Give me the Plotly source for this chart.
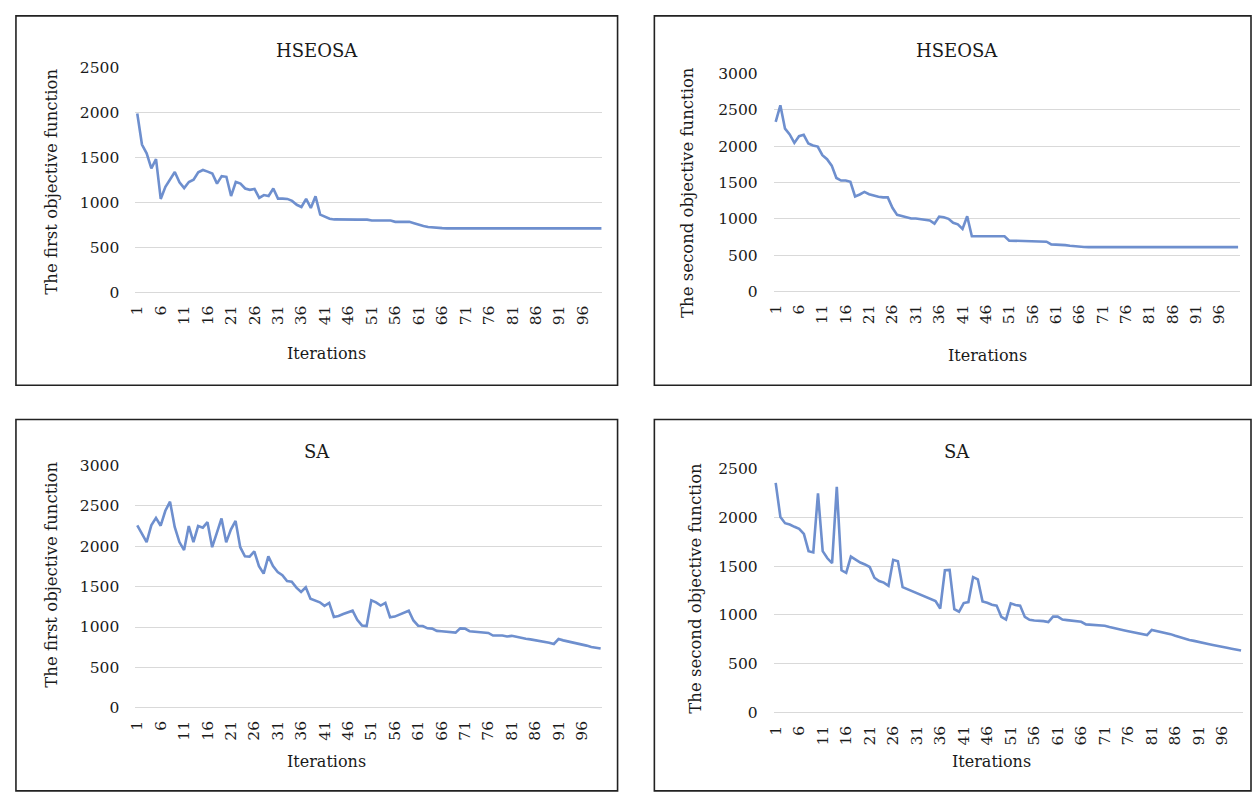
import plotly.graph_objects as go

# ---------------- data ----------------
iterations = list(range(1, 101))
tick_vals = [1, 6, 11, 16, 21, 26, 31, 36, 41, 46, 51, 56, 61, 66, 71, 76, 81, 86, 91, 96]
tick_text = [str(v) for v in tick_vals]

hseosa_f1 = [
    1990, 1645, 1547, 1380, 1482, 1040, 1174, 1257, 1340, 1225,
    1160, 1228, 1254, 1337, 1362, 1344, 1322, 1210, 1293, 1286,
    1072, 1228, 1210, 1156, 1141, 1152, 1051, 1083, 1072, 1156,
    1043, 1043, 1040, 1018, 975, 950, 1040, 939, 1069, 866,
    840, 819, 812, 810, 810, 810, 810, 810, 810, 810,
    800, 800, 800, 800, 800, 785, 785, 785, 785, 770,
    752, 738, 728, 722, 718, 715, 713, 712, 712, 712,
    712, 712, 712, 712, 712, 712, 712, 712, 712, 712,
    712, 712, 712, 712, 712, 712, 712, 712, 712, 712,
    712, 712, 712, 712, 712, 712, 712, 712, 712, 712,
]

hseosa_f2 = [
    2335, 2562, 2241, 2161, 2045, 2138, 2156, 2036, 2009, 1995,
    1875, 1821, 1732, 1562, 1527, 1527, 1509, 1308, 1335, 1370,
    1339, 1317, 1304, 1295, 1295, 1152, 1054, 1040, 1022, 1004,
    1004, 995, 982, 978, 933, 1031, 1022, 1000, 946, 924,
    862, 1036, 759, 760, 760, 760, 760, 760, 760, 760,
    700, 698, 696, 694, 692, 688, 686, 685, 685, 648,
    646, 645, 638, 630, 622, 616, 612, 610, 610, 610,
    610, 610, 610, 610, 610, 610, 610, 610, 610, 610,
    610, 610, 610, 610, 610, 610, 610, 610, 610, 610,
    610, 610, 610, 610, 610, 610, 610, 610, 610, 610,
]

sa_f1 = [
    2258, 2157, 2052, 2258, 2351, 2254, 2439, 2552, 2238, 2052,
    1952, 2250, 2052, 2250, 2230, 2298, 1988, 2165, 2343, 2048,
    2206, 2314, 1988, 1875, 1871, 1935, 1754, 1661, 1875, 1754,
    1681, 1641, 1568, 1560, 1488, 1435, 1492, 1351, 1327, 1306,
    1262, 1298, 1125, 1137, 1161, 1181, 1202, 1089, 1020, 1012,
    1330, 1306, 1266, 1298, 1121, 1129, 1153, 1177, 1202, 1081,
    1016, 1012, 984, 980, 952, 948, 940, 931, 931, 984,
    980, 948, 944, 935, 927, 927, 895, 895, 895, 883,
    891, 879, 863, 855, 847, 839, 823, 814, 806, 790,
    851, 835, 823, 814, 802, 790, 770, 754, 746, 734,
]

sa_f2 = [
    2351, 2002, 1939, 1926, 1902, 1882, 1829, 1653, 1640, 2244,
    1653, 1580, 1531, 2311, 1457, 1431, 1597, 1564, 1537, 1517,
    1491, 1381, 1348, 1331, 1298, 1564, 1550, 1285, 1265, 1248,
    1228, 1208, 1182, 1165, 1142, 1066, 1457, 1461, 1059, 1033,
    1122, 1132, 1388, 1365, 1139, 1125, 1104, 1096, 982, 953,
    1119, 1102, 1096, 980, 950, 943, 943, 937, 927, 983,
    983, 953, 947, 943, 940, 930, 904, 900, 894, 894,
    890, 877, 864, 854, 844, 834, 824, 814, 804, 794,
    847, 837, 827, 814, 804, 788, 771, 755, 745, 735,
    722, 712, 702, 692, 685, 675, 665, 655, 645, 636,
]

titles = ["HSEOSA", "HSEOSA", "SA", "SA"]
y_labels = ["The first objective function", "The second objective function",
            "The first objective function", "The second objective function"]
x_label = "Iterations"
y_max = [2500, 3000, 3000, 2500]

# ---------------- layout (pixels in the 1252x796 window) ----------------
W, H = 1252, 796
FONT = "DejaVu Serif"
LINE_COLOR = "#6E8FCE"
GRID = "#D9D9D9"
TXT = "#1A1A1A"

panels = [
    dict(data=hseosa_f1, grid_x=(129, 598), pts_x=(131, 598), y0=290, ytop=60,
         title=(312, 42), xlab=(321, 352), ylab=(45, 177), box=(9, 7, 614, 385)),
    dict(data=hseosa_f2, grid_x=(771, 1240), pts_x=(773, 1238), y0=289, ytop=66,
         title=(955, 42), xlab=(986, 355), ylab=(685, 188), box=(651, 7, 1251, 385)),
    dict(data=sa_f1, grid_x=(129, 598), pts_x=(131, 597), y0=715, ytop=467,
         title=(312, 453), xlab=(321, 770), ylab=(45, 579), box=(9, 420, 614, 800)),
    dict(data=sa_f2, grid_x=(771, 1243), pts_x=(773, 1241), y0=720, ytop=470,
         title=(955, 453), xlab=(990, 770), ylab=(692, 593), box=(651, 420, 1251, 800)),
]

def px(x):
    return x / W

def py(y):
    return 1 - y / H

fig = go.Figure()
layout = dict(
    width=W, height=H, margin=dict(l=0, r=0, t=0, b=0),
    paper_bgcolor="white", plot_bgcolor="white", showlegend=False,
    font=dict(family=FONT, color=TXT),
)
annotations = []
shapes = []

for i, p in enumerate(panels):
    n = i + 1
    xa = "xaxis" if n == 1 else f"xaxis{n}"
    ya = "yaxis" if n == 1 else f"yaxis{n}"
    xr = "x" if n == 1 else f"x{n}"
    yr = "y" if n == 1 else f"y{n}"

    fig.add_trace(go.Scatter(
        x=iterations, y=p["data"], mode="lines",
        line=dict(color=LINE_COLOR, width=2.6),
        xaxis=xr, yaxis=yr, hoverinfo="x+y",
    ))

    gl, gr = p["grid_x"]
    first, last = p["pts_x"]
    spacing = (last - first) / (len(iterations) - 1)
    xrange_ = [1 - (first - gl) / spacing, len(iterations) + (gr - last) / spacing]

    layout[xa] = dict(
        domain=[px(gl), px(gr)], range=xrange_, anchor=yr,
        tickmode="array", tickvals=tick_vals, ticktext=tick_text,
        tickangle=-90, ticks="", showgrid=False, zeroline=False, showline=False,
        tickfont=dict(family=FONT, size=15.5, color=TXT), ticklabelstandoff=9,
    )
    ymax = y_max[i]
    layout[ya] = dict(
        domain=[py(p["y0"]), py(p["ytop"])], range=[0, ymax], anchor=xr,
        tickmode="linear", tick0=0, dtick=500, ticks="",
        showgrid=True, gridcolor=GRID, gridwidth=1.4,
        zeroline=True, zerolinecolor=GRID, zerolinewidth=1.4, showline=False,
        tickfont=dict(family=FONT, size=15.5, color=TXT), ticklabelstandoff=15,
    )

    tx, ty = p["title"]
    annotations.append(dict(text=titles[i], x=px(tx), y=py(ty), xref="paper", yref="paper",
                            showarrow=False, xanchor="center", yanchor="middle",
                            font=dict(family=FONT, size=18, color=TXT)))
    lx, ly = p["xlab"]
    annotations.append(dict(text=x_label, x=px(lx), y=py(ly), xref="paper", yref="paper",
                            showarrow=False, xanchor="center", yanchor="middle",
                            font=dict(family=FONT, size=16, color=TXT)))
    vx, vy = p["ylab"]
    annotations.append(dict(text=y_labels[i], x=px(vx), y=py(vy), xref="paper", yref="paper",
                            showarrow=False, xanchor="center", yanchor="middle", textangle=-90,
                            font=dict(family=FONT, size=16.5, color=TXT)))
    bx0, by0, bx1, by1 = p["box"]
    shapes.append(dict(type="rect", xref="paper", yref="paper",
                       x0=px(bx0), x1=px(bx1), y0=py(by1), y1=py(by0),
                       line=dict(color="#222222", width=1.6), fillcolor="rgba(0,0,0,0)"))

layout["annotations"] = annotations
layout["shapes"] = shapes
fig.update_layout(**layout)
fig.write_html(
    "out.html",
    config={"displayModeBar": False},
    post_script="document.documentElement.style.margin='0';document.body.style.margin='0';"
                "document.body.style.padding='0';document.body.style.overflow='hidden';",
)
